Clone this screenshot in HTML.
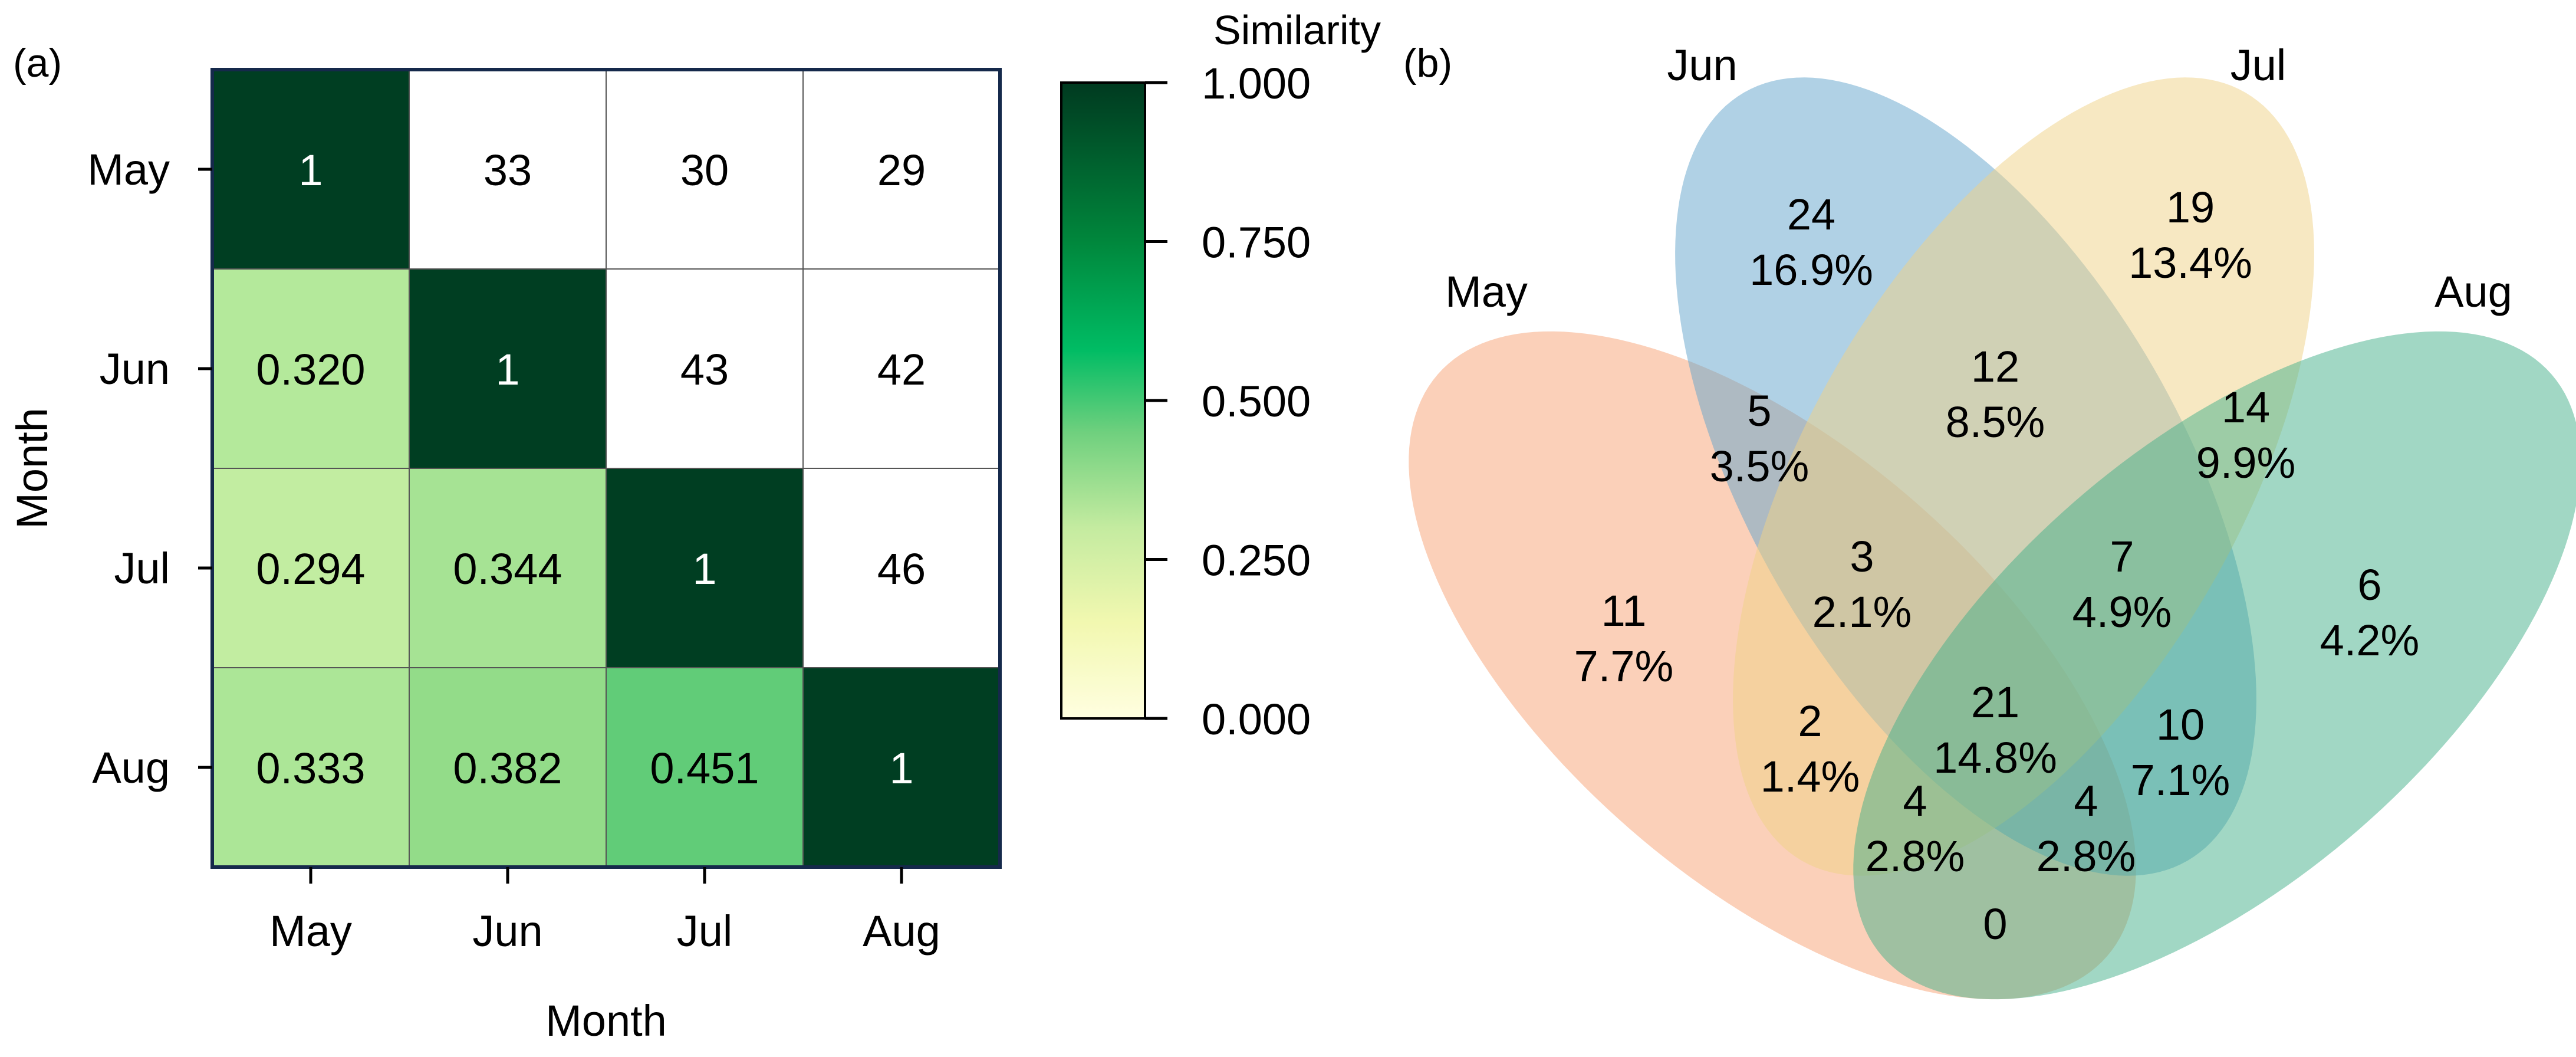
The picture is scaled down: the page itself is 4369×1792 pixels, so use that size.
<!DOCTYPE html>
<html><head><meta charset="utf-8"><style>
html,body{margin:0;padding:0;background:#fff;overflow:hidden;}
svg{display:block;font-family:"Liberation Sans",Arial,sans-serif;}
</style></head><body>
<svg id="fig" width="4369" height="1792" viewBox="0 0 4369 1792">
<defs>
<linearGradient id="cbg" x1="0" y1="1" x2="0" y2="0">
<stop offset="0" stop-color="#fffee0"/>
<stop offset="0.15" stop-color="#f2f8b0"/>
<stop offset="0.3" stop-color="#c4eba0"/>
<stop offset="0.45" stop-color="#6fd07e"/>
<stop offset="0.58" stop-color="#00bc64"/>
<stop offset="0.75" stop-color="#00873c"/>
<stop offset="1" stop-color="#003a20"/>
</linearGradient>
</defs>
<g id="panelA"></g>
<g id="panelB"></g>
</svg>
<script>
const months = ["May","Jun","Jul","Aug"];
const simLower = [
  [1, null, null, null],
  [0.320, 1, null, null],
  [0.294, 0.344, 1, null],
  [0.333, 0.382, 0.451, 1]
];
const countUpper = [
  [null, 33, 30, 29],
  [null, null, 43, 42],
  [null, null, null, 46],
  [null, null, null, null]
];
const cbTicks = [0, 0.25, 0.5, 0.75, 1];
const cbTickLabels = ["0.000","0.250","0.500","0.750","1.000"];

const vennSets = ["May","Jun","Jul","Aug"];
const vennCounts = [11, 24, 19, 6, 5, 12, 14, 3, 7, 2, 21, 10, 4, 4, 0];
const vennPcts = ["7.7%","16.9%","13.4%","4.2%","3.5%","8.5%","9.9%","2.1%","4.9%","1.4%","14.8%","7.1%","2.8%","2.8%",""];

const NS = "http://www.w3.org/2000/svg";
const FS = 74;
function mk(tag, attrs, parent, text){
  const e = document.createElementNS(NS, tag);
  for (const k in attrs) e.setAttribute(k, attrs[k]);
  if (text !== undefined) e.textContent = text;
  parent.appendChild(e);
  return e;
}
function colorFor(v){
  const stops = [[0,[255,254,224]],[0.15,[242,248,176]],[0.3,[192,237,160]],[0.34,[168,228,149]],[0.38,[148,220,138]],[0.45,[98,204,120]],[0.58,[0,188,100]],[0.75,[0,135,60]],[1,[0,62,34]]];
  for (let i=1;i<stops.length;i++){
    if (v<=stops[i][0]){
      const [a,ca]=stops[i-1],[b,cb]=stops[i];
      const t=(v-a)/(b-a);
      return "rgb("+ca.map((c,j)=>Math.round(c+(cb[j]-c)*t)).join(",")+")";
    }
  }
  return "rgb(0,62,34)";
}
// ---- Panel A ----
const A = document.getElementById("panelA");
const X0=360, Y0=118, CW=334, CH=338;
const xc = i => X0 + CW*(i+0.5);
const yc = i => Y0 + CH*(i+0.5);
let t = mk("text",{x:22,y:130,"font-size":68,fill:"#000"},A,"(a)");


for (let r=0;r<4;r++){
  for (let c=0;c<4;c++){
    const v = simLower[r][c];
    const fill = v===null ? "#ffffff" : colorFor(v);
    const rect = mk("rect",{x:X0+CW*c,y:Y0+CH*r,width:CW,height:CH,fill:fill,stroke:"#555",'stroke-width':2},A);
    
    
    let label, col="#000";
    if (v===null){ label = String(countUpper[r][c]); }
    else if (v===1){ label="1"; col="#fff"; }
    else { label = v.toFixed(3); }
    const tx = mk("text",{x:xc(c),y:yc(r)+27,"font-size":FS,"text-anchor":"middle",fill:col},A,label);
    
    
  }
}
let frame = mk("rect",{x:X0,y:Y0,width:CW*4,height:CH*4,fill:"none",stroke:"#15294b","stroke-width":6},A);


for (let i=0;i<4;i++){
  let tk = mk("line",{x1:X0-24,x2:X0,y1:yc(i),y2:yc(i),stroke:"#000","stroke-width":5},A);
  
  
  let yl = mk("text",{x:288,y:yc(i)+26,"font-size":FS,"text-anchor":"end"},A,months[i]);
  
  
  let tk2 = mk("line",{x1:xc(i),x2:xc(i),y1:Y0+CH*4,y2:Y0+CH*4+28,stroke:"#000","stroke-width":5},A);
  
  
  let xl = mk("text",{x:xc(i),y:1604,"font-size":FS,"text-anchor":"middle"},A,months[i]);
  
  
}
let xt = mk("text",{x:X0+CW*2,y:1756,"font-size":FS,"text-anchor":"middle"},A,"Month");


let yt = mk("text",{x:0,y:0,"font-size":FS,"text-anchor":"middle",transform:"translate(80,"+(Y0+CH*2)+") rotate(-90)"},A,"Month");


// colorbar
const CBX=1800, CBW=142, CBT=140, CBB=1218;
const cby = v => CBB - (CBB-CBT)*v;
let cb = mk("rect",{x:CBX,y:CBT,width:CBW,height:CBB-CBT,fill:"url(#cbg)",stroke:"#000","stroke-width":4},A);


cbTicks.forEach((v,i)=>{
  let l = mk("line",{x1:CBX+CBW,x2:CBX+CBW+38,y1:cby(v),y2:cby(v),stroke:"#000","stroke-width":5},A);
  
  
  let tl = mk("text",{x:2038,y:cby(v)+27,"font-size":FS},A,cbTickLabels[i]);
  
  
});
let cbt = mk("text",{x:2200,y:75,"font-size":70,"text-anchor":"middle"},A,"Similarity");



// ---- Panel B ----
const B = document.getElementById("panelB");
let tb = mk("text",{x:2380,y:130,"font-size":68},B,"(b)");


const ell = [
  {cx:3006,cy:1128,rot:41,fill:"#f8a274"},
  {cx:3334,cy:808,rot:60,fill:"#62a3cb"},
  {cx:3432,cy:808,rot:-60,fill:"#f0d186"},
  {cx:3760,cy:1128,rot:-41,fill:"#44b08a"}
];
function ellPath(cx,cy,rx,ry,deg){
  const th=deg*Math.PI/180, c=Math.cos(th), s=Math.sin(th);
  let d="";
  for (let k=0;k<=180;k++){
    const a=k/180*2*Math.PI, x=rx*Math.cos(a), y=ry*Math.sin(a);
    d += (k?"L":"M")+(cx+x*c-y*s).toFixed(1)+","+(cy+x*s+y*c).toFixed(1);
  }
  return d+"Z";
}
ell.forEach((e,i)=>{
  const el = mk("path",{d:ellPath(e.cx,e.cy,752,368,e.rot),fill:e.fill,"fill-opacity":0.5},B);
  
  
});
const setLabelPos = [[2521,520],[2887,136],[3830,136],[4195,520]];
vennSets.forEach((s,i)=>{
  const l = mk("text",{x:setLabelPos[i][0],y:setLabelPos[i][1],"font-size":FS,"text-anchor":"middle"},B,s);
  
  
});
const regionPos = [[2754,1034],[3072,362],[3715,350],[4019,990],[2984,695],[3384,620],[3809,689],[3158,942],[3599,942],[3070,1221],[3384,1189],[3698,1227],[3248,1356],[3538,1356],[3384,1565]];
vennCounts.forEach((c,i)=>{
  const [x,y]=regionPos[i];
  const g = mk("g",{},B);
  
  
  mk("text",{x:x,y:y+27,"font-size":FS,"text-anchor":"middle"},g,String(c));
  if (vennPcts[i]) mk("text",{x:x,y:y+121,"font-size":FS,"text-anchor":"middle"},g,vennPcts[i]);
});
</script>
</body></html>
